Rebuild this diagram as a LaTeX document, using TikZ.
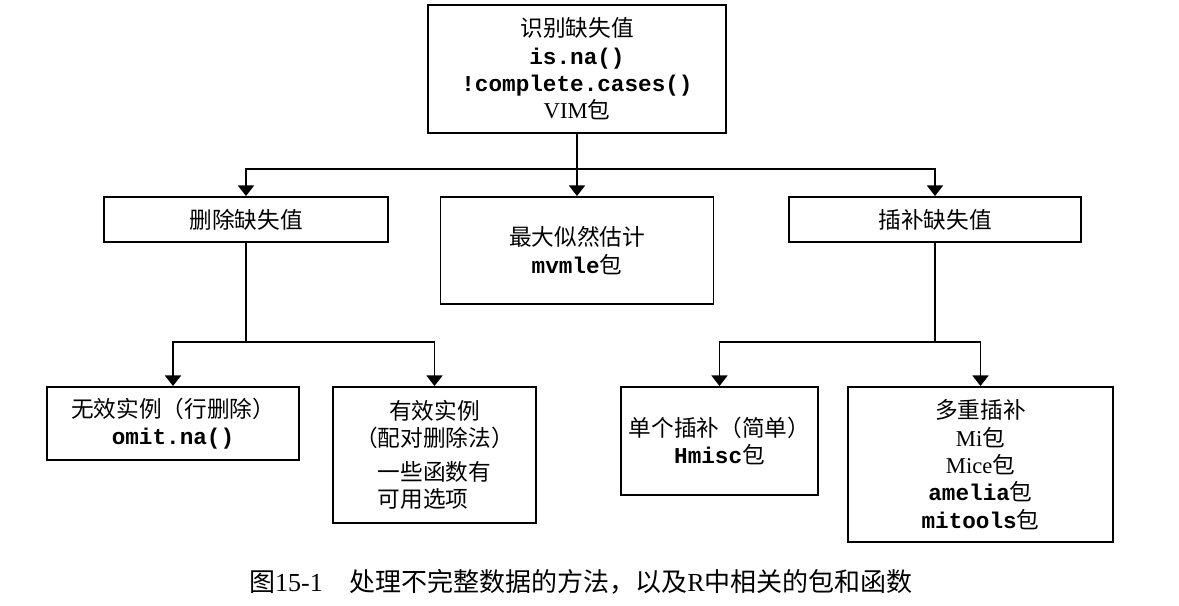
\documentclass[tikz,border=0pt]{standalone}
\usepackage{fontspec}
\setmainfont{Noto Sans CJK SC}
\setmonofont{Liberation Mono}
\newfontfamily\tnr{Liberation Serif}
\newcommand{\rcode}[1]{{\ttfamily\bfseries #1}}
\usetikzlibrary{arrows.meta,positioning}

\begin{document}
\begin{tikzpicture}[on grid,
  box/.style={draw,line width=1.4pt,align=center,inner sep=2pt,font=\fontsize{17}{20.5}\selectfont},
  link/.style={line width=1.4pt},
  tip/.style={line width=1.4pt,-{Triangle[width=12pt,length=8pt]}}]
        \useasboundingbox (0,0) rectangle (884.25pt,-454.5pt);
        \node[box,minimum width=223.5pt,minimum height=96pt] (ident) at (432.75pt,-51.75pt) {识别缺失值\\\rcode{is.na()}\\\rcode{!complete.cases()}\\{\tnr VIM}包};
        \node[box,minimum width=213pt,minimum height=33.75pt] (del) [below left=112.875pt and 248.25pt of ident] {删除缺失值};
        \node[box,minimum width=204.75pt,minimum height=80.25pt] (mle) [below=136.125pt of ident] {最大似然估计\\\rcode{mvmle}包};
        \node[box,minimum width=219pt,minimum height=33.75pt] (imp) [below right=112.875pt and 268.5pt of ident] {插补缺失值};
        \node[box,minimum width=189pt,minimum height=54.75pt] (lw) [below left=153pt and 54.75pt of del] {无效实例（行删除）\\\rcode{omit.na()}};
        \node[box,minimum width=152.25pt,minimum height=102pt] (pw) [below right=176.625pt and 141.375pt of del] {有效实例\\（配对删除法）\\[5pt]一些函数有\\可用选项\phantom{有}};
        \node[box,minimum width=147.75pt,minimum height=81pt] (single) [below left=166.125pt and 161.625pt of imp] {单个插补（简单）\\\rcode{Hmisc}包};
        \node[box,minimum width=198.75pt,minimum height=116.25pt] (multi) [below right=183.75pt and 34.125pt of imp] {多重插补\\{\tnr Mi}包\\{\tnr Mice}包\\\rcode{amelia}包\\\rcode{mitools}包};
        \node[font=\fontsize{19.5}{22}\selectfont] (caption) at (435.75pt,-436.5pt) {图{\tnr 15-1}\hspace{20pt}处理不完整数据的方法，以及{\tnr R}中相关的包和函数};
        \coordinate (bus1) at ([yshift=-26.25pt]ident.south);
        \coordinate (bus2) at ([yshift=-74.25pt]del.south);
        \coordinate (bus3) at ([yshift=-74.25pt]imp.south);
        \draw[tip] (ident.south) -- (mle.north);
        \draw[tip] (bus1) -| (del.north);
        \draw[tip] (bus1) -| (imp.north);
        \draw[link] (del.south) -- (bus2);
        \draw[tip] (bus2) -| (lw.north);
        \draw[tip] (bus2) -| (pw.north);
        \draw[link] (imp.south) -- (bus3);
        \draw[tip] (bus3) -| (single.north);
        \draw[tip] (bus3) -| (multi.north);
\end{tikzpicture}
\end{document}
